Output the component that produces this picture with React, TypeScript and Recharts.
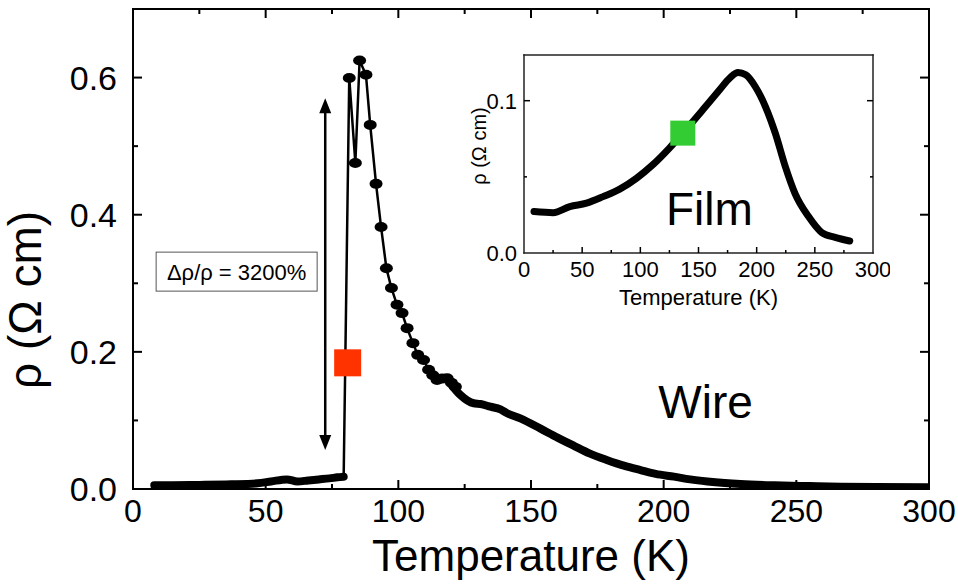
import React from 'react';
import { LineChart, Line, XAxis, YAxis, ReferenceDot, ReferenceLine } from 'recharts';

const FONT = '"Liberation Sans", Arial, Helvetica, sans-serif';

// ---- Main (wire) data ----
const wireLowT = [8, 15, 25, 37, 47, 52, 58, 62, 66, 70, 74, 77, 79.4];
const wireLowRho = [0.0055, 0.0056, 0.006, 0.0068, 0.0083, 0.011, 0.014, 0.011, 0.0125, 0.014, 0.0155, 0.017, 0.018];

const wirePeakT = [79.4, 81.5, 83.8, 85.4, 87.8, 89.4, 91.6, 93.5, 95.5, 97.4, 99.5, 101.4, 103.3, 105.5, 107.3, 109.5, 111.4, 113.0, 114.6, 116.5, 118.4, 120.0, 121.5];
const wirePeakRho = [0.018, 0.5995, 0.4755, 0.625, 0.604, 0.531, 0.445, 0.382, 0.322, 0.293, 0.2686, 0.2565, 0.2346, 0.2127, 0.1956, 0.188, 0.174, 0.166, 0.159, 0.161, 0.1616, 0.155, 0.149];

const wireTailT = [119.6, 123.4, 128.4, 131, 134.7, 138.5, 141, 146, 153.6, 160, 166.2, 172, 178.8, 185, 191.3, 197, 203.9, 210, 216.5, 223, 229, 241.6, 255, 266.8, 280, 299.5];
const wireTailRho = [0.154, 0.137, 0.125, 0.124, 0.12, 0.116, 0.1105, 0.103, 0.088, 0.075, 0.063, 0.052, 0.042, 0.034, 0.0275, 0.022, 0.018, 0.014, 0.011, 0.0088, 0.0073, 0.0054, 0.0042, 0.0034, 0.0029, 0.0025];

// ---- Inset (film) data ----
const filmT = [8.6, 25, 39.4, 53.7, 68, 82.3, 96.6, 110.8, 125, 136.5, 153.7, 168, 177, 184, 190.6, 199, 207.6, 216, 224.6, 233, 244.6, 256, 267.4, 280];
const filmRho = [0.0272, 0.0265, 0.0305, 0.0327, 0.037, 0.0419, 0.049, 0.058, 0.0689, 0.0787, 0.094, 0.107, 0.115, 0.1185, 0.117, 0.109, 0.096, 0.0787, 0.0568, 0.039, 0.0239, 0.0134, 0.0103, 0.0079];

// ---- Ticks ----
const mainXTicks = [0, 25, 50, 75, 100, 125, 150, 175, 200, 225, 250, 275, 300];
const mainXLabels = [0, 50, 100, 150, 200, 250, 300];
const mainYTicks = [0, 0.1, 0.2, 0.3, 0.4, 0.5, 0.6, 0.7];
const mainYLabels = [0, 0.2, 0.4, 0.6];
const insetXTicks = [0, 25, 50, 75, 100, 125, 150, 175, 200, 225, 250, 275, 300];
const insetXLabels = [0, 50, 100, 150, 200, 250, 300];
const insetYTicks = [0, 0.05, 0.1, 0.13];
const insetYLabels = [0, 0.1];

// ---- Annotations ----
const arrowT = 72.45;
const arrowRho = [0.057, 0.570];
const redSquare = { T: 80.9, rho: 0.184 };
const greenSquare = { T: 136.5, rho: 0.0787 };
const boxNote = { T: 39.06, rho: 0.317, text: 'Δρ/ρ = 3200%' };
const wireNote = { T: 215.8, rho: 0.1035, text: 'Wire' };
const filmNote = { T: 159.4, rho: 0.0184, text: 'Film' };

const zip = (t: number[], r: number[]) => t.map((T, i) => ({ T, rho: r[i] }));
const wireLow = zip(wireLowT, wireLowRho);
const wirePeak = zip(wirePeakT, wirePeakRho);
const wireTail = zip(wireTailT, wireTailRho);
const film = zip(filmT, filmRho);

const isIn = (arr: number[], v: number) => arr.some((a) => Math.abs(a - v) < 1e-9);

// ---------- tick renderers ----------
const makeBottomTick = (labels: number[], majorLen: number, minorLen: number, fs: number, off: number, min: number, max: number, sw: number) =>
  (props: any) => {
    const { x, y, payload } = props;
    const v = payload.value;
    const major = isIn(labels, v);
    return (
      <g>
        {v > min && v < max && (
          <line x1={x} x2={x} y1={y} y2={y - (major ? majorLen : minorLen)} stroke="#000" strokeWidth={sw} />
        )}
        {major && (
          <text x={x} y={y + off} textAnchor="middle" fontFamily={FONT} fontSize={fs} fill="#000">
            {v}
          </text>
        )}
      </g>
    );
  };

const makeTopTick = (labels: number[], majorLen: number, minorLen: number, min: number, max: number, sw: number) =>
  (props: any) => {
    const { x, y, payload } = props;
    const v = payload.value;
    const major = isIn(labels, v);
    if (!(v > min && v < max)) return <g />;
    return <line x1={x} x2={x} y1={y} y2={y + (major ? majorLen : minorLen)} stroke="#000" strokeWidth={sw} />;
  };

const makeLeftTick = (labels: number[], majorLen: number, minorLen: number, fs: number, off: number, min: number, max: number, digits: number, sw: number) =>
  (props: any) => {
    const { x, y, payload } = props;
    const v = payload.value;
    const major = isIn(labels, v);
    return (
      <g>
        {v > min && v < max && (
          <line x1={x} x2={x + (major ? majorLen : minorLen)} y1={y} y2={y} stroke="#000" strokeWidth={sw} />
        )}
        {major && (
          <text x={x - off} y={y + fs * 0.36} textAnchor="end" fontFamily={FONT} fontSize={fs} fill="#000">
            {v.toFixed(digits)}
          </text>
        )}
      </g>
    );
  };

const makeRightTick = (labels: number[], majorLen: number, minorLen: number, min: number, max: number, sw: number) =>
  (props: any) => {
    const { x, y, payload } = props;
    const v = payload.value;
    const major = isIn(labels, v);
    if (!(v > min && v < max)) return <g />;
    return <line x1={x} x2={x - (major ? majorLen : minorLen)} y1={y} y2={y} stroke="#000" strokeWidth={sw} />;
  };

const MainXTick = makeBottomTick(mainXLabels, 9, 5, 32, 33, 0, 300, 2);
const MainXTopTick = makeTopTick(mainXLabels, 9, 5, 0, 300, 2);
const MainYTick = makeLeftTick(mainYLabels, 9, 5, 34, 16, 0, 0.7, 1, 2);
const MainYRightTick = makeRightTick(mainYLabels, 9, 5, 0, 0.7, 2);

const InsetXTick = makeBottomTick(insetXLabels, 6, 3, 22, 24, 0, 300, 1.5);
const InsetYTick = makeLeftTick(insetYLabels, 6, 3, 22, 7, 0, 0.13, 1, 1.5);
const InsetYRightTick = makeRightTick(insetYLabels, 6, 3, 0, 0.13, 1.5);

// ---------- dot / shapes ----------
const PeakDot = (p: any) => {
  if (p.index === 0) return <g key={p.index} />;
  return <ellipse key={p.index} cx={p.cx} cy={p.cy} rx={6.5} ry={5} fill="#000" />;
};

const ArrowShape = (p: any) => {
  const x = p.x1;
  const ya = Math.min(p.y1, p.y2);
  const yb = Math.max(p.y1, p.y2);
  const hl = 15;
  const hw = 6;
  return (
    <g>
      <line x1={x} x2={x} y1={ya + hl - 2} y2={yb - hl + 2} stroke="#000" strokeWidth={2.5} />
      <polygon points={`${x},${ya} ${x - hw},${ya + hl} ${x + hw},${ya + hl}`} fill="#000" />
      <polygon points={`${x},${yb} ${x - hw},${yb - hl} ${x + hw},${yb - hl}`} fill="#000" />
    </g>
  );
};

const squareShape = (size: number, color: string) => (p: any) => (
  <rect x={p.cx - size / 2} y={p.cy - size / 2} width={size} height={size} fill={color} />
);

const BoxNoteShape = (p: any) => (
  <g>
    <rect x={p.cx - 80.5} y={p.cy - 19.5} width={161} height={39} fill="#fff" stroke="#555" strokeWidth={1} />
    <text x={p.cx} y={p.cy + 8} textAnchor="middle" fontFamily={FONT} fontSize={22} fill="#000">
      {boxNote.text}
    </text>
  </g>
);

const bigText = (text: string) => (p: any) => (
  <text x={p.cx} y={p.cy} textAnchor="middle" fontFamily={FONT} fontSize={46} fill="#000">
    {text}
  </text>
);

const MainXLabel = (props: any) => {
  const vb = props.viewBox;
  return (
    <text x={vb.x + vb.width / 2} y={vb.y + 82} textAnchor="middle" fontFamily={FONT} fontSize={44} fill="#000">
      Temperature (K)
    </text>
  );
};

const MainYLabel = (props: any) => {
  const vb = props.viewBox;
  const cx = vb.x + 28;
  const cy = 300;
  return (
    <text x={cx} y={cy} transform={`rotate(-90 ${cx} ${cy})`} textAnchor="middle" fontFamily={FONT} fontSize={46} fill="#000">
      ρ (Ω cm)
    </text>
  );
};

const InsetXLabel = (props: any) => {
  const vb = props.viewBox;
  return (
    <text x={vb.x + vb.width / 2} y={vb.y + 52} textAnchor="middle" fontFamily={FONT} fontSize={22} fill="#000">
      Temperature (K)
    </text>
  );
};

const InsetYLabel = (props: any) => {
  const vb = props.viewBox;
  const cx = vb.x + 32;
  const cy = vb.y + vb.height / 2 - 8;
  return (
    <text x={cx} y={cy} transform={`rotate(-90 ${cx} ${cy})`} textAnchor="middle" fontFamily={FONT} fontSize={20} fill="#000">
      ρ (Ω cm)
    </text>
  );
};

const mainAxisLine = { stroke: '#000', strokeWidth: 2, strokeLinecap: 'square' as const };
const insetAxisLine = { stroke: '#222', strokeWidth: 1.5, strokeLinecap: 'square' as const };

export default function App() {
  return (
    <div style={{ position: 'absolute', left: 0, top: 0, width: 958, height: 586, background: '#fff' }}>
      <div style={{ position: 'absolute', left: 0, top: 0 }}>
        <LineChart width={958} height={586} margin={{ top: 8, right: 28, bottom: 7, left: 13 }}>
          <XAxis
            xAxisId="b"
            dataKey="T"
            type="number"
            domain={[0, 300]}
            allowDataOverflow
            ticks={mainXTicks}
            interval={0}
            tickSize={0}
            tickMargin={0}
            tickLine={false}
            tick={MainXTick}
            axisLine={mainAxisLine}
            height={90}
            label={{ content: MainXLabel }}
          />
          <XAxis
            xAxisId="t"
            orientation="top"
            dataKey="T"
            type="number"
            domain={[0, 300]}
            allowDataOverflow
            ticks={mainXTicks}
            interval={0}
            tickSize={0}
            tickMargin={0}
            tickLine={false}
            tick={MainXTopTick}
            axisLine={mainAxisLine}
            height={1}
          />
          <YAxis
            yAxisId="l"
            type="number"
            domain={[0, 0.7]}
            allowDataOverflow
            ticks={mainYTicks}
            interval={0}
            tickSize={0}
            tickMargin={0}
            tickLine={false}
            tick={MainYTick}
            axisLine={mainAxisLine}
            width={120}
            label={{ content: MainYLabel }}
          />
          <YAxis
            yAxisId="r"
            orientation="right"
            type="number"
            domain={[0, 0.7]}
            allowDataOverflow
            ticks={mainYTicks}
            interval={0}
            tickSize={0}
            tickMargin={0}
            tickLine={false}
            tick={MainYRightTick}
            axisLine={mainAxisLine}
            width={1}
          />
          <Line xAxisId="b" yAxisId="l" data={wireLow} dataKey="rho" type="monotone" stroke="#000" strokeWidth={8} strokeLinecap="round" dot={false} isAnimationActive={false} />
          <Line xAxisId="b" yAxisId="l" data={wireTail} dataKey="rho" type="monotone" stroke="#000" strokeWidth={8} strokeLinecap="round" dot={false} isAnimationActive={false} />
          <Line xAxisId="b" yAxisId="l" data={wirePeak} dataKey="rho" type="linear" stroke="#000" strokeWidth={2.5} dot={PeakDot} isAnimationActive={false} />
          <ReferenceLine
            xAxisId="b"
            yAxisId="l"
            segment={[{ x: arrowT, y: arrowRho[0] }, { x: arrowT, y: arrowRho[1] }]}
            shape={ArrowShape}
          />
          <ReferenceDot xAxisId="b" yAxisId="l" x={redSquare.T} y={redSquare.rho} shape={squareShape(27, '#ff3300')} />
          <ReferenceDot xAxisId="b" yAxisId="l" x={boxNote.T} y={boxNote.rho} shape={BoxNoteShape} />
          <ReferenceDot xAxisId="b" yAxisId="l" x={wireNote.T} y={wireNote.rho} shape={bigText(wireNote.text)} />
        </LineChart>
      </div>
      <div style={{ position: 'absolute', left: 440, top: 40 }}>
        <LineChart width={450} height={280} margin={{ top: 14, right: 16, bottom: 7, left: 14 }}>
          <XAxis
            xAxisId="b"
            dataKey="T"
            type="number"
            domain={[0, 300]}
            allowDataOverflow
            ticks={insetXTicks}
            interval={0}
            tickSize={0}
            tickMargin={0}
            tickLine={false}
            tick={InsetXTick}
            axisLine={insetAxisLine}
            height={60}
            label={{ content: InsetXLabel }}
          />
          <XAxis
            xAxisId="t"
            orientation="top"
            dataKey="T"
            type="number"
            domain={[0, 300]}
            allowDataOverflow
            ticks={[0, 300]}
            tick={false}
            tickLine={false}
            axisLine={insetAxisLine}
            height={1}
          />
          <YAxis
            yAxisId="l"
            type="number"
            domain={[0, 0.13]}
            allowDataOverflow
            ticks={insetYTicks}
            interval={0}
            tickSize={0}
            tickMargin={0}
            tickLine={false}
            tick={InsetYTick}
            axisLine={insetAxisLine}
            width={70}
            label={{ content: InsetYLabel }}
          />
          <YAxis
            yAxisId="r"
            orientation="right"
            type="number"
            domain={[0, 0.13]}
            allowDataOverflow
            ticks={insetYTicks}
            interval={0}
            tickSize={0}
            tickMargin={0}
            tickLine={false}
            tick={InsetYRightTick}
            axisLine={insetAxisLine}
            width={1}
          />
          <Line xAxisId="b" yAxisId="l" data={film} dataKey="rho" type="monotone" stroke="#000" strokeWidth={7} strokeLinecap="round" dot={false} isAnimationActive={false} />
          <ReferenceDot xAxisId="b" yAxisId="l" x={greenSquare.T} y={greenSquare.rho} shape={squareShape(25, '#33cc33')} />
          <ReferenceDot xAxisId="b" yAxisId="l" x={filmNote.T} y={filmNote.rho} shape={bigText(filmNote.text)} />
        </LineChart>
      </div>
    </div>
  );
}
